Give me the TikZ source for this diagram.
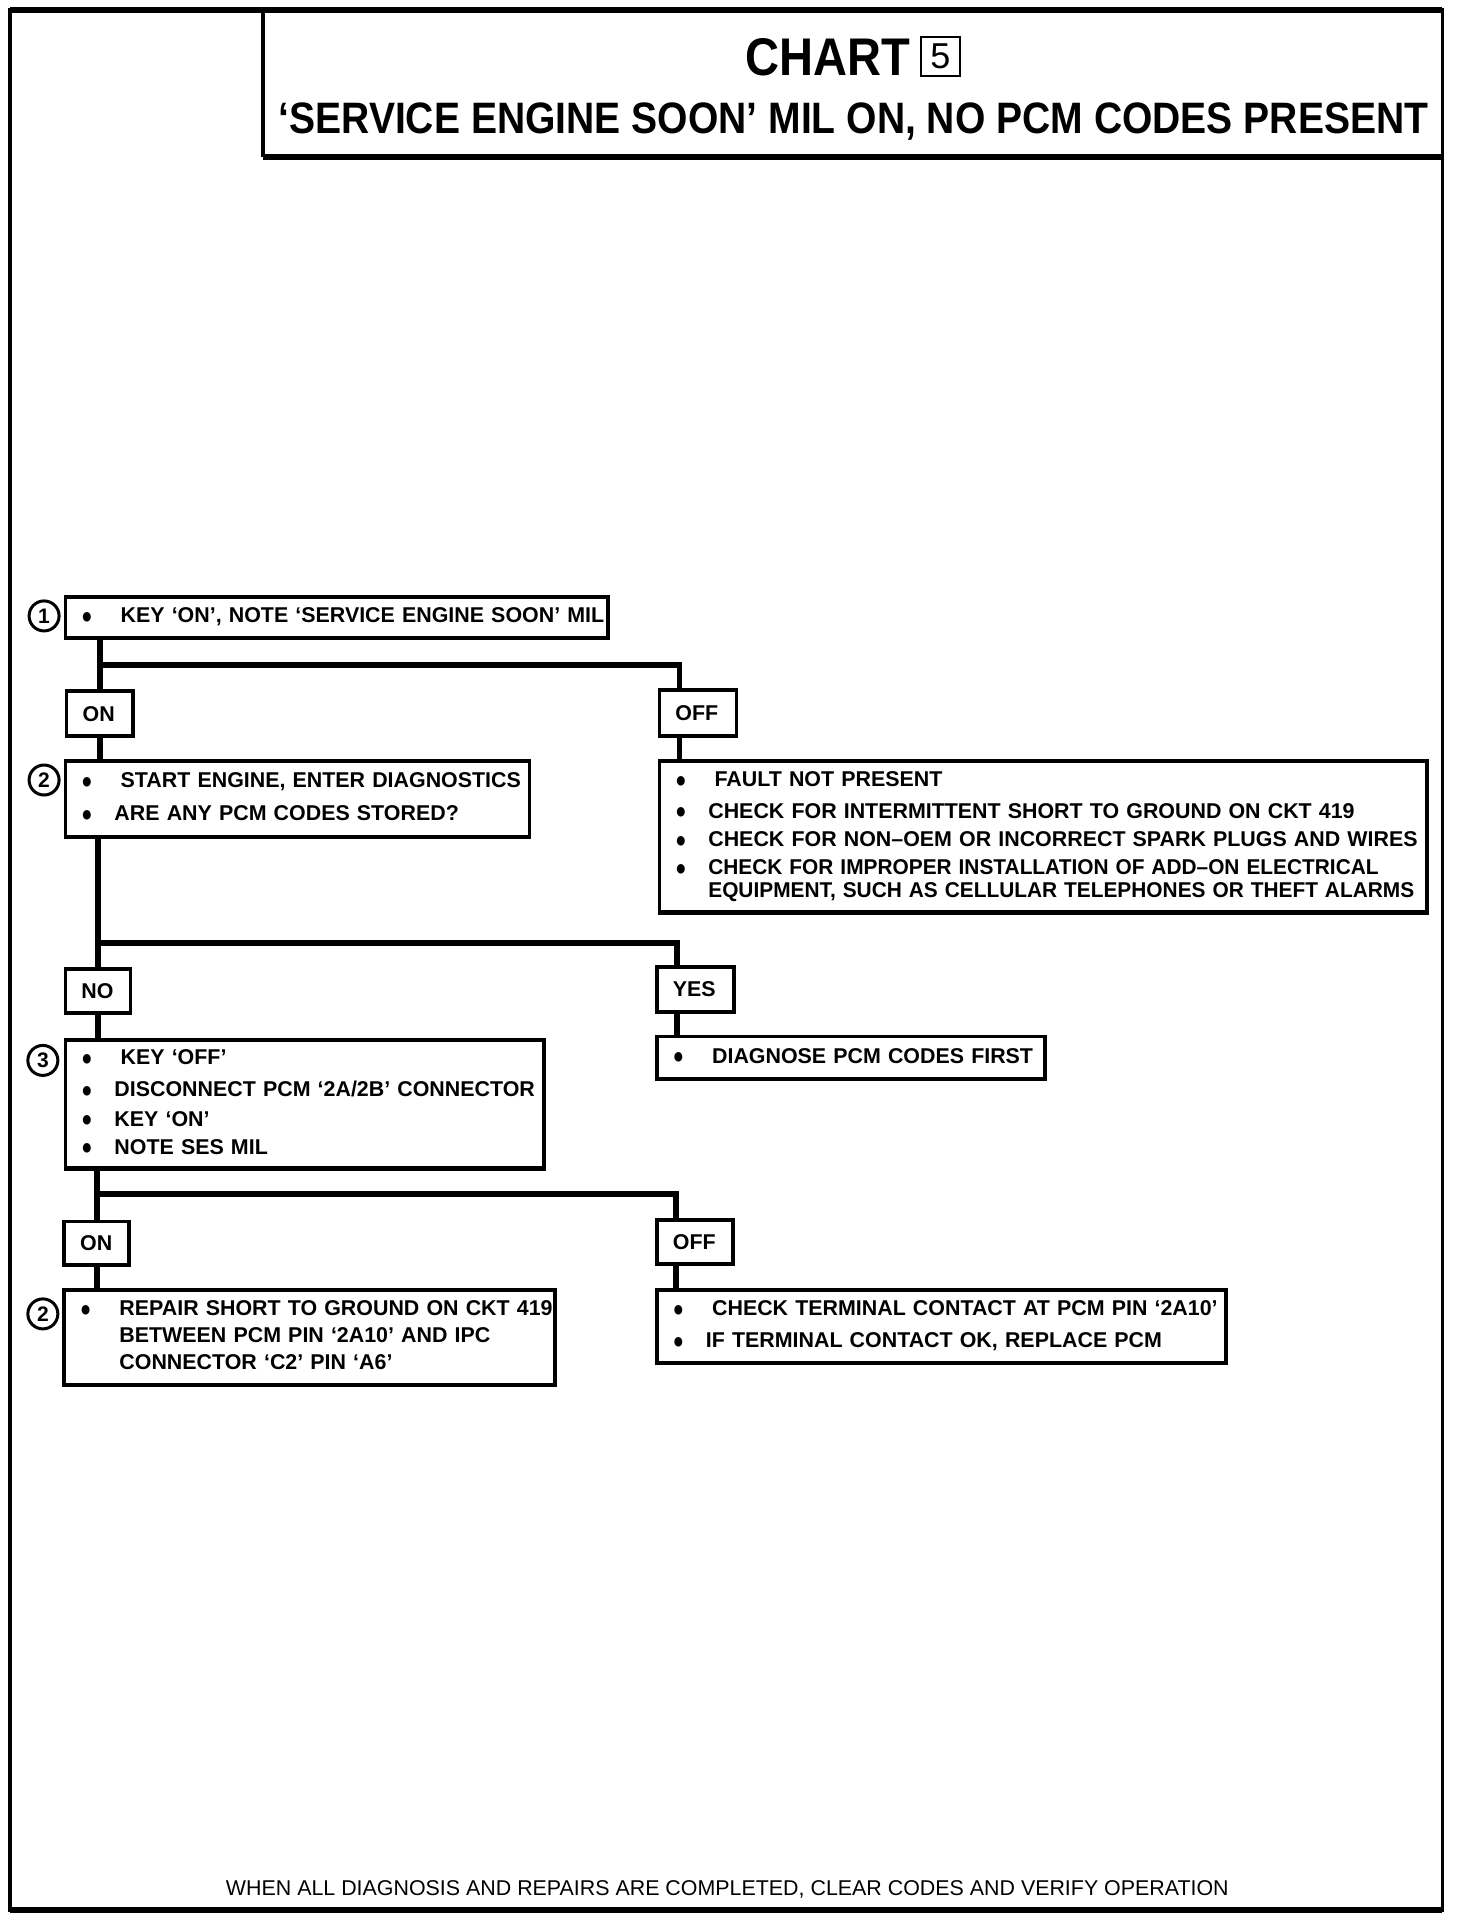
\documentclass[tikz,border=0pt]{standalone}
\usepackage{fontspec}
\setmainfont{Liberation Sans}
\newfontfamily\headfont[FakeStretch=0.888]{Liberation Sans Bold}
\usetikzlibrary{positioning}
\newcommand\bigdot{\smash{\raisebox{-0.3pt}{\fontsize{9.2}{9}\selectfont\scalebox{1}[1.2]{●}}}}
\newcommand\itm{\makebox[16.5pt][l]{\bigdot}}
\newcommand\itmw{\makebox[19.6pt][l]{\bigdot}}
\newcommand\steptext[1]{\begin{tabular}{@{}l@{}}#1\end{tabular}}

\begin{document}
\begin{tikzpicture}[x=0.6123pt, y=-0.6123pt,
    stepbox/.style={draw, line width=1.8pt, anchor=north west,
        inner xsep=8pt, inner ysep=0pt, align=left,
        font=\fontsize{10.7}{13}\selectfont\bfseries,
        path picture={\draw[line width=2.4pt] (path picture bounding box.south west)
            -- (path picture bounding box.south east);}},
    stepno/.style={draw, circle, line width=1.5pt, minimum size=15pt,
        inner sep=0pt, font=\fontsize{10.5}{13}\selectfont\bfseries},
    wire/.style={line width=2.8pt, line join=miter}]
    \useasboundingbox (0,0) rectangle (1202,1568);

    % frame and heading
    \draw[line width=1.8pt] (8,8) rectangle (1178,1560);
    \draw[line width=3pt] (8,8) -- (1178,8);
    \draw[line width=3pt] (8,1560) -- (1178,1560);
    \draw[line width=1.8pt] (215,8) -- (215,128);
    \draw[line width=3pt] (215,128) -- (1178,128);
    \node[font=\headfont\fontsize{26.5}{30}\selectfont] (chart) at (676,47) {CHART};
    \node[draw, line width=1.2pt, minimum size=19.6pt, inner sep=0pt,
        font=\fontsize{18}{20}\selectfont] (chartno) at (768,46) {5};
    \node[font=\headfont\fontsize{22}{26}\selectfont] (title) at (697,99)
        {‘SERVICE ENGINE SOON’ MIL ON, NO PCM CODES PRESENT};

    % steps
    \node[stepbox, text width=255.2pt, minimum height=20.8pt] (k1) at (52,486)
        {\steptext{\itmw KEY ‘ON’, NOTE ‘SERVICE ENGINE SOON’ MIL}};
    \node[stepno] (n1) at (36,503) {1};
    \node[stepbox, text width=17.1pt, minimum height=22.7pt] (on1) at (53,563) {ON};
    \node[stepbox, text width=22.6pt, minimum height=23.3pt] (off1) at (537,562) {OFF};
    \node[stepbox, text width=216.1pt, minimum height=38pt] (k2) at (52,620)
        {\steptext{\itmw START ENGINE, ENTER DIAGNOSTICS\\[3.5pt]
         \itm ARE ANY PCM CODES STORED?}};
    \node[stepno] (n2) at (36,637) {2};
    \node[stepbox, text width=367.9pt, minimum height=75.9pt] (f1) at (537,620)
        {\steptext{\itmw FAULT NOT PRESENT\\[2.9pt]
         \itm CHECK FOR INTERMITTENT SHORT TO GROUND ON CKT 419\\[1.1pt]
         \itm CHECK FOR NON–OEM OR INCORRECT SPARK PLUGS AND WIRES\\[1.1pt]
         \itm \scalebox{0.975}[1]{CHECK FOR IMPROPER INSTALLATION OF ADD–ON ELECTRICAL}\\[-1.6pt]
         \hspace*{16.5pt}\scalebox{0.975}[1]{EQUIPMENT, SUCH AS CELLULAR TELEPHONES OR THEFT ALARMS}}};

    \node[stepbox, text width=16.5pt, minimum height=22pt] (no1) at (52,790) {NO};
    \node[stepbox, text width=22.6pt, minimum height=22.7pt] (yes1) at (535,788) {YES};
    \node[stepbox, text width=223.4pt, minimum height=64.3pt] (k3) at (52,848)
        {\steptext{\itmw KEY ‘OFF’\\[2.9pt]
         \itm DISCONNECT PCM ‘2A/2B’ CONNECTOR\\[1.7pt]
         \itm KEY ‘ON’\\[1.1pt]
         \itm NOTE SES MIL}};
    \node[stepno] (n3) at (35,866) {3};
    \node[stepbox, text width=178.1pt, minimum height=21.4pt] (d1) at (535,845)
        {\steptext{\itmw DIAGNOSE PCM CODES FIRST}};

    \node[stepbox, text width=16.5pt, minimum height=22pt] (on2) at (51,996) {ON};
    \node[stepbox, text width=22pt, minimum height=22pt] (off2) at (535,995) {OFF};
    \node[stepbox, text width=229.5pt, minimum height=47.8pt] (k4) at (51,1052)
        {\steptext{\itmw REPAIR SHORT TO GROUND ON CKT 419\\[0.5pt]
         \hspace*{19.6pt}BETWEEN PCM PIN ‘2A10’ AND IPC\\[0.5pt]
         \hspace*{19.6pt}CONNECTOR ‘C2’ PIN ‘A6’}};
    \node[stepno] (n4) at (35,1073) {2};
    \node[stepbox, text width=268.7pt, minimum height=36.7pt] (t1) at (535,1052)
        {\steptext{\itmw CHECK TERMINAL CONTACT AT PCM PIN ‘2A10’\\[3pt]
         \itm IF TERMINAL CONTACT OK, REPLACE PCM}};

    \node[font=\fontsize{10.7}{12}\selectfont] (foot) at (594,1543)
        {WHEN ALL DIAGNOSIS AND REPAIRS ARE COMPLETED, CLEAR CODES AND VERIFY OPERATION};

    % branches
    \coordinate (j1) at (555,543);
    \coordinate (j2) at (553,770);
    \coordinate (j3) at (552,975);
    \draw[wire] (k1.south -| on1.north) -- (on1.north);
    \draw[wire] (on1.north |- j1) -- (j1) -- (j1 |- off1.north);
    \draw[wire] (on1.south) -- (on1.south |- k2.north);
    \draw[wire] (j1 |- off1.south) -- (j1 |- f1.north);

    \draw[wire] (k2.south -| no1.north) -- (no1.north);
    \draw[wire] (no1.north |- j2) -- (j2) -- (j2 |- yes1.north);
    \draw[wire] (no1.south) -- (no1.south |- k3.north);
    \draw[wire] (j2 |- yes1.south) -- (j2 |- d1.north);

    \draw[wire] (k3.south -| on2.north) -- (on2.north);
    \draw[wire] (on2.north |- j3) -- (j3) -- (j3 |- off2.north);
    \draw[wire] (on2.south) -- (on2.south |- k4.north);
    \draw[wire] (j3 |- off2.south) -- (j3 |- t1.north);
\end{tikzpicture}
\end{document}
